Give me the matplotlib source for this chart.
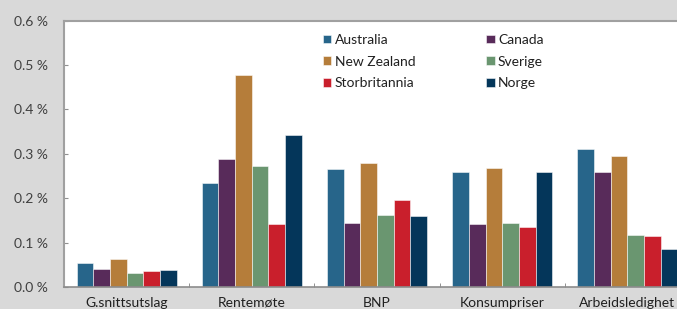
import matplotlib
matplotlib.use("Agg")
import matplotlib.pyplot as plt
import numpy as np

categories = ["G.snittsutslag", "Rentemøte", "BNP", "Konsumpriser", "Arbeidsledighet"]
series_names = ["Australia", "Canada", "New Zealand", "Sverige", "Storbritannia", "Norge"]
australia = [0.055, 0.234, 0.265, 0.259, 0.311]
canada = [0.041, 0.289, 0.144, 0.142, 0.260]
new_zealand = [0.062, 0.478, 0.280, 0.268, 0.296]
sverige = [0.032, 0.273, 0.162, 0.145, 0.117]
storbritannia = [0.035, 0.141, 0.196, 0.136, 0.115]
norge = [0.038, 0.343, 0.159, 0.258, 0.086]
values = [australia, canada, new_zealand, sverige, storbritannia, norge]
colors = ["#27658A", "#582B5A", "#B57D3A", "#6A9670", "#C91F2C", "#04365A"]
yticks = [0.0, 0.1, 0.2, 0.3, 0.4, 0.5, 0.6]

plt.rcParams['font.family'] = ['Lato', 'DejaVu Sans']

fig = plt.figure(figsize=(6.77, 3.09), dpi=100)
fig.patch.set_facecolor("#D9D9D9")
ax = fig.add_axes([64/677, 22/309, (690-64)/677, (287.5-21)/309])
ax.set_facecolor("white")

n = len(series_names)
group_w = 0.8
bw = group_w / n
x = np.arange(len(categories))
handles = []
for i, (name, vals, c) in enumerate(zip(series_names, values, colors)):
    b = ax.bar(x - group_w/2 + bw*(i+0.5), vals, width=bw, color=c,
               edgecolor=(1, 1, 1, 0.6), linewidth=0.6, label=name)
    handles.append(b)

ax.set_xlim(-0.5, len(categories) - 0.5)
ax.set_ylim(0, 0.6)
ax.set_yticks(yticks)
ax.set_yticklabels([f"{v:.1f} %" for v in yticks], fontsize=10, color="#404040")
ax.set_xticks(x)
ax.set_xticklabels(categories, fontsize=10, color="#202020")
ax.tick_params(axis='x', length=0, pad=7)
ax.set_xticks(np.arange(0.5, len(categories) - 0.5, 1), minor=True)
ax.tick_params(axis='x', which='minor', direction='in', length=3, color="#808080")
ax.tick_params(axis='y', direction='in', length=3, color="#909090", pad=11.5)

for s in ["left", "top"]:
    ax.spines[s].set_color("#A0A0A0")
    ax.spines[s].set_linewidth(1.5)
ax.spines["bottom"].set_color("#8C8C8C")
ax.spines["bottom"].set_linewidth(1.2)
ax.spines["right"].set_visible(False)

order = [0, 2, 4, 1, 3, 5]
leg = ax.legend([handles[i] for i in order], [series_names[i] for i in order],
                ncol=2, loc="upper left", bbox_to_anchor=(0.4137, 0.95),
                borderpad=0, borderaxespad=0,
                frameon=False, fontsize=10, handlelength=0.6, handleheight=0.6,
                handletextpad=0.25, columnspacing=5.1, labelspacing=0.7)
for t in leg.get_texts():
    t.set_color("#202020")

fig.savefig("out.png", dpi=100, facecolor=fig.get_facecolor())
